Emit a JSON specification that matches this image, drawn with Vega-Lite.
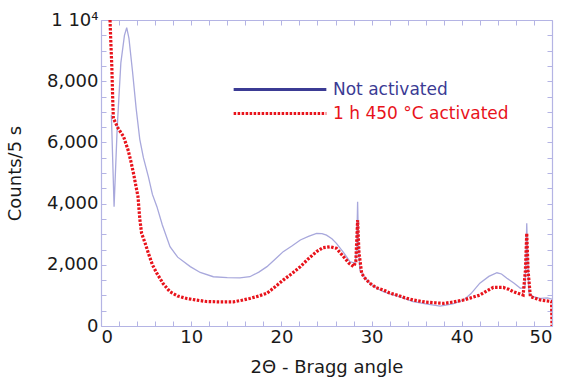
{
  "$schema": "https://vega.github.io/schema/vega-lite/v6.json",
  "width": 451,
  "height": 306,
  "autosize": "none",
  "padding": {"left": 101, "top": 20, "right": 12, "bottom": 56},
  "background": "white",
  "config": {
    "font": "DejaVu Sans",
    "view": {"stroke": null},
    "axis": {"grid": false, "domainColor": "#b4b4e4", "tickColor": "#b4b4e4", "labelColor": "#1a1a1a", "titleColor": "#1a1a1a", "labelFontSize": 18, "titleFontSize": 18, "titleFontWeight": "normal", "tickSize": -5, "domainWidth": 1.2}
  },
  "data": {"values": [
    {"x": 1.15, "y": 6900, "s": "Not activated"},
    {"x": 1.45, "y": 3900, "s": "Not activated"},
    {"x": 1.8, "y": 6500, "s": "Not activated"},
    {"x": 2.2, "y": 8600, "s": "Not activated"},
    {"x": 2.6, "y": 9500, "s": "Not activated"},
    {"x": 2.85, "y": 9750, "s": "Not activated"},
    {"x": 3.1, "y": 9400, "s": "Not activated"},
    {"x": 3.5, "y": 8300, "s": "Not activated"},
    {"x": 3.9, "y": 7100, "s": "Not activated"},
    {"x": 4.3, "y": 6100, "s": "Not activated"},
    {"x": 4.7, "y": 5500, "s": "Not activated"},
    {"x": 5.25, "y": 4880, "s": "Not activated"},
    {"x": 5.7, "y": 4300, "s": "Not activated"},
    {"x": 6.2, "y": 3900, "s": "Not activated"},
    {"x": 6.8, "y": 3300, "s": "Not activated"},
    {"x": 7.65, "y": 2590, "s": "Not activated"},
    {"x": 8.5, "y": 2250, "s": "Not activated"},
    {"x": 9.9, "y": 1940, "s": "Not activated"},
    {"x": 11, "y": 1750, "s": "Not activated"},
    {"x": 12.45, "y": 1610, "s": "Not activated"},
    {"x": 14, "y": 1580, "s": "Not activated"},
    {"x": 15.4, "y": 1570, "s": "Not activated"},
    {"x": 16.5, "y": 1610, "s": "Not activated"},
    {"x": 17.5, "y": 1760, "s": "Not activated"},
    {"x": 18.4, "y": 1940, "s": "Not activated"},
    {"x": 19.3, "y": 2180, "s": "Not activated"},
    {"x": 20.2, "y": 2430, "s": "Not activated"},
    {"x": 21.2, "y": 2620, "s": "Not activated"},
    {"x": 22.1, "y": 2810, "s": "Not activated"},
    {"x": 23, "y": 2930, "s": "Not activated"},
    {"x": 23.9, "y": 3030, "s": "Not activated"},
    {"x": 24.5, "y": 3020, "s": "Not activated"},
    {"x": 25.0, "y": 2970, "s": "Not activated"},
    {"x": 25.6, "y": 2850, "s": "Not activated"},
    {"x": 26.1, "y": 2700, "s": "Not activated"},
    {"x": 26.9, "y": 2400, "s": "Not activated"},
    {"x": 27.6, "y": 2100, "s": "Not activated"},
    {"x": 28.2, "y": 2050, "s": "Not activated"},
    {"x": 28.35, "y": 2600, "s": "Not activated"},
    {"x": 28.45, "y": 4060, "s": "Not activated"},
    {"x": 28.55, "y": 2600, "s": "Not activated"},
    {"x": 28.7, "y": 1830, "s": "Not activated"},
    {"x": 29.2, "y": 1600, "s": "Not activated"},
    {"x": 29.8, "y": 1400, "s": "Not activated"},
    {"x": 30.5, "y": 1250, "s": "Not activated"},
    {"x": 31.3, "y": 1120, "s": "Not activated"},
    {"x": 32.2, "y": 1030, "s": "Not activated"},
    {"x": 33.1, "y": 960, "s": "Not activated"},
    {"x": 34.6, "y": 800, "s": "Not activated"},
    {"x": 36, "y": 720, "s": "Not activated"},
    {"x": 37.6, "y": 650, "s": "Not activated"},
    {"x": 39, "y": 720, "s": "Not activated"},
    {"x": 40.2, "y": 850, "s": "Not activated"},
    {"x": 41, "y": 1050, "s": "Not activated"},
    {"x": 42, "y": 1400, "s": "Not activated"},
    {"x": 43, "y": 1620, "s": "Not activated"},
    {"x": 43.9, "y": 1740, "s": "Not activated"},
    {"x": 44.4, "y": 1700, "s": "Not activated"},
    {"x": 45.0, "y": 1560, "s": "Not activated"},
    {"x": 45.8, "y": 1400, "s": "Not activated"},
    {"x": 46.5, "y": 1230, "s": "Not activated"},
    {"x": 47.0, "y": 1260, "s": "Not activated"},
    {"x": 47.12, "y": 2300, "s": "Not activated"},
    {"x": 47.2, "y": 3360, "s": "Not activated"},
    {"x": 47.3, "y": 2300, "s": "Not activated"},
    {"x": 47.45, "y": 1070, "s": "Not activated"},
    {"x": 48.0, "y": 950, "s": "Not activated"},
    {"x": 48.7, "y": 900, "s": "Not activated"},
    {"x": 49.5, "y": 920, "s": "Not activated"},
    {"x": 50, "y": 880, "s": "Not activated"},
    {"x": 1.0, "y": 10000, "s": "1 h 450 °C activated"},
    {"x": 1.1, "y": 9200, "s": "1 h 450 °C activated"},
    {"x": 1.2, "y": 8480, "s": "1 h 450 °C activated"},
    {"x": 1.3, "y": 7400, "s": "1 h 450 °C activated"},
    {"x": 1.37, "y": 6790, "s": "1 h 450 °C activated"},
    {"x": 1.9, "y": 6460, "s": "1 h 450 °C activated"},
    {"x": 2.5, "y": 6190, "s": "1 h 450 °C activated"},
    {"x": 3.0, "y": 5750, "s": "1 h 450 °C activated"},
    {"x": 3.3, "y": 5400, "s": "1 h 450 °C activated"},
    {"x": 3.6, "y": 4990, "s": "1 h 450 °C activated"},
    {"x": 4.1, "y": 4230, "s": "1 h 450 °C activated"},
    {"x": 4.3, "y": 3500, "s": "1 h 450 °C activated"},
    {"x": 4.5, "y": 3030, "s": "1 h 450 °C activated"},
    {"x": 4.9, "y": 2700, "s": "1 h 450 °C activated"},
    {"x": 5.25, "y": 2380, "s": "1 h 450 °C activated"},
    {"x": 5.7, "y": 2000, "s": "1 h 450 °C activated"},
    {"x": 6.2, "y": 1720, "s": "1 h 450 °C activated"},
    {"x": 6.9, "y": 1380, "s": "1 h 450 °C activated"},
    {"x": 7.65, "y": 1120, "s": "1 h 450 °C activated"},
    {"x": 8.5, "y": 980, "s": "1 h 450 °C activated"},
    {"x": 9.5, "y": 900, "s": "1 h 450 °C activated"},
    {"x": 10.5, "y": 850, "s": "1 h 450 °C activated"},
    {"x": 11.7, "y": 800, "s": "1 h 450 °C activated"},
    {"x": 13, "y": 790, "s": "1 h 450 °C activated"},
    {"x": 14.7, "y": 790, "s": "1 h 450 °C activated"},
    {"x": 15.6, "y": 840, "s": "1 h 450 °C activated"},
    {"x": 16.5, "y": 900, "s": "1 h 450 °C activated"},
    {"x": 17.5, "y": 980, "s": "1 h 450 °C activated"},
    {"x": 18.4, "y": 1070, "s": "1 h 450 °C activated"},
    {"x": 19.3, "y": 1280, "s": "1 h 450 °C activated"},
    {"x": 20.2, "y": 1500, "s": "1 h 450 °C activated"},
    {"x": 21.2, "y": 1720, "s": "1 h 450 °C activated"},
    {"x": 22.1, "y": 1940, "s": "1 h 450 °C activated"},
    {"x": 23, "y": 2200, "s": "1 h 450 °C activated"},
    {"x": 23.9, "y": 2430, "s": "1 h 450 °C activated"},
    {"x": 24.6, "y": 2560, "s": "1 h 450 °C activated"},
    {"x": 25.4, "y": 2590, "s": "1 h 450 °C activated"},
    {"x": 26.1, "y": 2540, "s": "1 h 450 °C activated"},
    {"x": 26.9, "y": 2260, "s": "1 h 450 °C activated"},
    {"x": 27.5, "y": 2050, "s": "1 h 450 °C activated"},
    {"x": 28.0, "y": 1940, "s": "1 h 450 °C activated"},
    {"x": 28.25, "y": 2100, "s": "1 h 450 °C activated"},
    {"x": 28.45, "y": 3460, "s": "1 h 450 °C activated"},
    {"x": 28.6, "y": 2400, "s": "1 h 450 °C activated"},
    {"x": 28.9, "y": 1720, "s": "1 h 450 °C activated"},
    {"x": 29.3, "y": 1550, "s": "1 h 450 °C activated"},
    {"x": 29.8, "y": 1400, "s": "1 h 450 °C activated"},
    {"x": 30.5, "y": 1250, "s": "1 h 450 °C activated"},
    {"x": 31.3, "y": 1180, "s": "1 h 450 °C activated"},
    {"x": 32.0, "y": 1080, "s": "1 h 450 °C activated"},
    {"x": 32.8, "y": 1010, "s": "1 h 450 °C activated"},
    {"x": 33.7, "y": 920, "s": "1 h 450 °C activated"},
    {"x": 34.6, "y": 850, "s": "1 h 450 °C activated"},
    {"x": 36, "y": 780, "s": "1 h 450 °C activated"},
    {"x": 37, "y": 760, "s": "1 h 450 °C activated"},
    {"x": 38.0, "y": 740, "s": "1 h 450 °C activated"},
    {"x": 39, "y": 780, "s": "1 h 450 °C activated"},
    {"x": 40.2, "y": 850, "s": "1 h 450 °C activated"},
    {"x": 41, "y": 920, "s": "1 h 450 °C activated"},
    {"x": 42.0, "y": 1010, "s": "1 h 450 °C activated"},
    {"x": 42.8, "y": 1150, "s": "1 h 450 °C activated"},
    {"x": 43.5, "y": 1260, "s": "1 h 450 °C activated"},
    {"x": 44.6, "y": 1260, "s": "1 h 450 °C activated"},
    {"x": 45.2, "y": 1200, "s": "1 h 450 °C activated"},
    {"x": 45.7, "y": 1120, "s": "1 h 450 °C activated"},
    {"x": 46.3, "y": 1060, "s": "1 h 450 °C activated"},
    {"x": 46.8, "y": 1010, "s": "1 h 450 °C activated"},
    {"x": 47.05, "y": 1800, "s": "1 h 450 °C activated"},
    {"x": 47.2, "y": 3030, "s": "1 h 450 °C activated"},
    {"x": 47.35, "y": 1800, "s": "1 h 450 °C activated"},
    {"x": 47.6, "y": 960, "s": "1 h 450 °C activated"},
    {"x": 48.2, "y": 900, "s": "1 h 450 °C activated"},
    {"x": 48.7, "y": 850, "s": "1 h 450 °C activated"},
    {"x": 49.4, "y": 820, "s": "1 h 450 °C activated"},
    {"x": 49.95, "y": 800, "s": "1 h 450 °C activated"},
    {"x": 50.0, "y": 0, "s": "1 h 450 °C activated"}
  ]},
  "layer": [
    {
      "transform": [{"filter": "datum.s == 'Not activated'"}],
      "mark": {"type": "line", "strokeWidth": 1.3, "clip": true, "color": "#a8a8dc"},
      "encoding": {
        "x": {"field": "x", "type": "quantitative", "scale": {"domain": [0, 50]},
          "axis": {"orient": "bottom", "title": "2Θ - Bragg angle", "values": [0,2,4,6,8,10,12,14,16,18,20,22,24,26,28,30,32,34,36,38,40,42,44,46,48,50],
            "labelExpr": "datum.value % 10 == 0 ? datum.label : ''", "labelPadding": 7, "titlePadding": 12}},
        "y": {"field": "y", "type": "quantitative", "scale": {"domain": [0, 10000]},
          "axis": {"orient": "left", "title": "Counts/5 s", "values": [0,500,1000,1500,2000,2500,3000,3500,4000,4500,5000,5500,6000,6500,7000,7500,8000,8500,9000,9500,10000],
            "labelExpr": "datum.value == 10000 ? '1 10⁴' : (datum.value % 2000 == 0 ? format(datum.value, ',') : '')", "labelPadding": 8, "titlePadding": 22}}
      }
    },
    {
      "transform": [{"filter": "datum.s != 'Not activated'"}],
      "mark": {"type": "line", "strokeWidth": 3.2, "clip": true, "strokeCap": "butt"},
      "encoding": {
        "x": {"field": "x", "type": "quantitative", "scale": {"domain": [0, 50]},
          "axis": {"orient": "top", "title": null, "labels": false, "values": [0,2,4,6,8,10,12,14,16,18,20,22,24,26,28,30,32,34,36,38,40,42,44,46,48,50]}},
        "y": {"field": "y", "type": "quantitative", "scale": {"domain": [0, 10000]},
          "axis": {"orient": "right", "title": null, "labels": false, "values": [0,500,1000,1500,2000,2500,3000,3500,4000,4500,5000,5500,6000,6500,7000,7500,8000,8500,9000,9500,10000]}},
        "color": {
          "field": "s", "type": "nominal",
          "scale": {"domain": ["Not activated", "1 h 450 °C activated"], "range": ["#3b3b94", "#e8131b"]},
          "legend": {
            "title": null, "orient": "none", "legendX": 132, "legendY": 59,
            "symbolType": "M-5.15,0H5.15", "symbolSize": 324, "symbolStrokeWidth": 3,
            "labelFontSize": 17, "labelOffset": 79, "labelLimit": 400, "rowPadding": 5,
            "encode": {
              "symbols": {"update": {"x": {"value": 47}}},
              "labels": {"update": {"fill": {"signal": "datum.value == 'Not activated' ? '#3b3b94' : '#e8131b'"}}}
            }
          }
        },
        "strokeDash": {
          "field": "s", "type": "nominal",
          "scale": {"domain": ["Not activated", "1 h 450 °C activated"], "range": [[1, 0], [2.5, 1.5]]},
          "legend": null
        }
      }
    }
  ],
  "resolve": {"axis": {"x": "independent", "y": "independent"}}
}
